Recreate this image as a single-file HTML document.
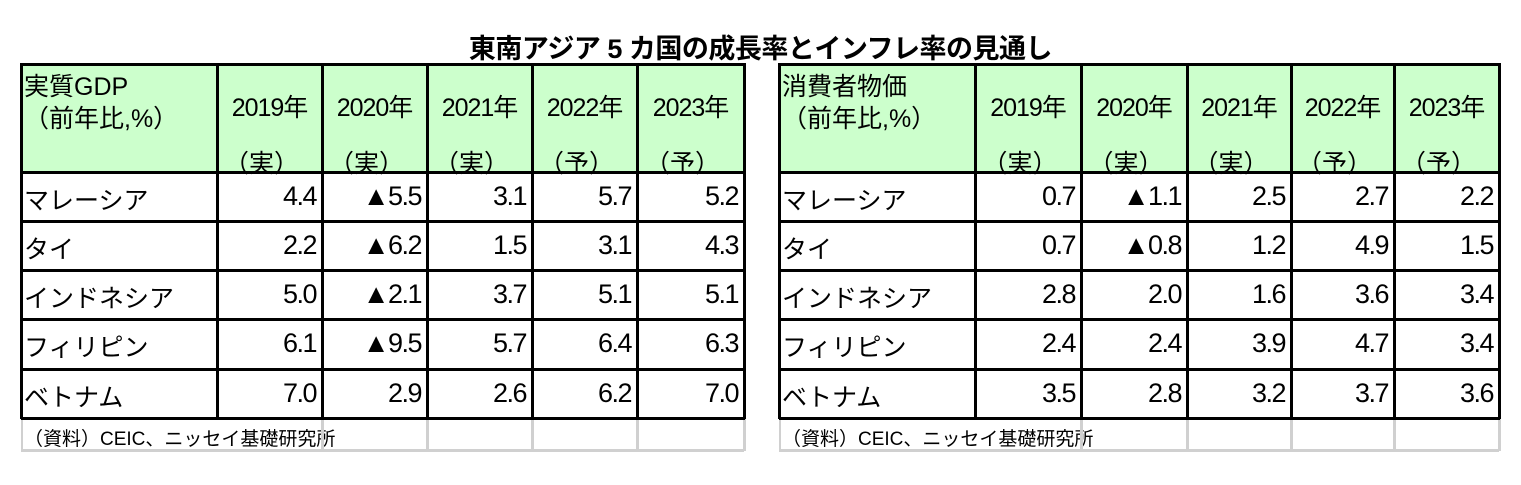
<!DOCTYPE html>
<html><head><meta charset="utf-8">
<style>
body{margin:0;width:1521px;height:485px;background:#fff;overflow:hidden;position:relative;font-family:"Liberation Sans","Noto Sans CJK JP",sans-serif;color:#000}
#title{position:absolute;left:0;width:1521px;top:27px;text-align:center;font-size:27px;font-weight:bold;letter-spacing:-0.5px}
.c{position:absolute;box-sizing:border-box;font-size:25px;white-space:nowrap}
.h{background:#ccffcc}
.num{text-align:right;padding-right:6px;font-size:27px;letter-spacing:-1.5px}
.yr{font-size:25px;letter-spacing:-1px}
.line{position:absolute;background:#000}
.gl{position:absolute;background:#d0d0d0}
</style></head><body>
<div id="title">東南アジア 5 カ国の成長率とインフレ率の見通し</div>
<div id="root"></div>
<script>
const countries=["マレーシア","タイ","インドネシア","フィリピン","ベトナム"];
const years=["2019年","2020年","2021年","2022年","2023年"];
const kinds=["（実）","（実）","（実）","（予）","（予）"];
const gdp=[["4.4","▲5.5","3.1","5.7","5.2"],["2.2","▲6.2","1.5","3.1","4.3"],["5.0","▲2.1","3.7","5.1","5.1"],["6.1","▲9.5","5.7","6.4","6.3"],["7.0","2.9","2.6","6.2","7.0"]];
const cpi=[["0.7","▲1.1","2.5","2.7","2.2"],["0.7","▲0.8","1.2","4.9","1.5"],["2.8","2.0","1.6","3.6","3.4"],["2.4","2.4","3.9","4.7","3.4"],["3.5","2.8","3.2","3.7","3.6"]];
const root=document.getElementById('root');
function tbl(prefix,cols,head,data){
  const rows=[63,172,221,270,319,369,418];
  const foot=451;
  let d=document.createElement('div');d.className='c h';
  
  
  d.style.cssText=`left:${cols[0]}px;top:${rows[0]}px;width:${cols[6]-cols[0]}px;height:${rows[1]-rows[0]}px`;root.appendChild(d);
  d=document.createElement('div');d.className='c';
  
  
  d.style.cssText=`left:${cols[0]+3}px;top:${rows[0]+8}px;line-height:32px`;d.innerHTML=head;root.appendChild(d);
  for(let j=0;j<5;j++){
    d=document.createElement('div');d.className='c yr';
    
    
    d.style.cssText=`left:${cols[j+1]}px;top:${rows[0]+25}px;width:${cols[j+2]-cols[j+1]}px;text-align:center`;d.textContent=years[j];root.appendChild(d);
    d=document.createElement('div');d.className='c';
    
    
    d.style.cssText=`left:${cols[j+1]-8}px;top:${rows[0]+81}px;width:${cols[j+2]-cols[j+1]}px;text-align:center`;d.textContent=kinds[j];root.appendChild(d);
  }
  for(let i=0;i<5;i++){
    d=document.createElement('div');d.className='c';
    
    
    d.style.cssText=`left:${cols[0]+3}px;top:${rows[i+1]+9}px`;d.textContent=countries[i];root.appendChild(d);
    for(let j=0;j<5;j++){
      d=document.createElement('div');d.className='c num';
      
      
      d.style.cssText=`left:${cols[j+1]}px;top:${rows[i+1]+9}px;width:${cols[j+2]-cols[j+1]}px`;d.textContent=data[i][j];root.appendChild(d);
    }
  }
  d=document.createElement('div');d.className='c';
  
  
  d.style.cssText=`left:${cols[0]+3}px;top:${rows[6]+6}px;font-size:19px`;d.textContent='（資料）CEIC、ニッセイ基礎研究所';root.appendChild(d);
  const gls=[[cols[0],rows[6],2,foot-rows[6]],[cols[0],foot-2,cols[6]-cols[0],3]];
  for(let j=2;j<=6;j++)gls.push([cols[j]-1,rows[6],3,foot-rows[6]]);
  gls.forEach(g=>{const e=document.createElement('div');e.className='gl';
    
    
    e.style.cssText=`left:${g[0]}px;top:${g[1]}px;width:${g[2]}px;height:${g[3]}px`;root.appendChild(e);});
  const ls=[];
  ls.push([cols[0],rows[0],cols[6]-cols[0]+1,3]);
  for(let i=1;i<=6;i++)ls.push([cols[0],rows[i]-1,cols[6]-cols[0]+1,3]);
  for(let j=0;j<=6;j++)ls.push([cols[j]-1,rows[0],3,rows[6]-rows[0]+1]);
  ls.forEach(g=>{const e=document.createElement('div');e.className='line';
    
    
    e.style.cssText=`left:${g[0]}px;top:${g[1]}px;width:${g[2]}px;height:${g[3]}px`;root.appendChild(e);});
}
tbl('gdp-table',[21,217,322,427,532,637,744],'実質GDP<br>（前年比,%）',gdp);
tbl('cpi-table',[779,975,1081,1187,1291,1394,1499],'消費者物価<br>（前年比,%）',cpi);
</script>
</body></html>
